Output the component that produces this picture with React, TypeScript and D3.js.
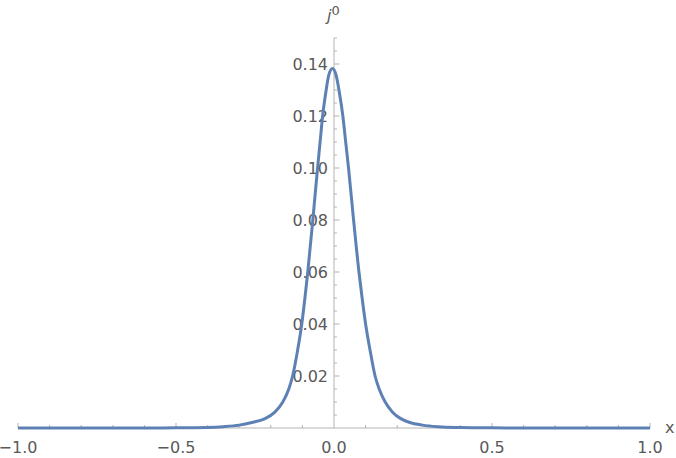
import React from 'react';
import * as d3 from 'd3';

// curve: x position and j0 value
const xValues = [-1, -0.8, -0.6, -0.5, -0.4, -0.35, -0.3, -0.26, -0.22, -0.188, -0.162, -0.143, -0.131, -0.115, -0.102, -0.092, -0.083, -0.067, -0.052, -0.044, -0.036, -0.026, -0.016, -0.005, 0.006, 0.017, 0.028, 0.037, 0.046, 0.062, 0.079, 0.089, 0.1, 0.114, 0.13, 0.143, 0.162, 0.186, 0.21, 0.24, 0.28, 0.33, 0.4, 0.5, 0.6, 0.8, 1];
const j0Values = [0, 0, 0.00001, 0.00005, 0.0002, 0.0005, 0.0011, 0.0021, 0.0035, 0.006, 0.01, 0.015, 0.02, 0.03, 0.04, 0.05, 0.06, 0.08, 0.1, 0.11, 0.12, 0.129, 0.136, 0.1383, 0.136, 0.129, 0.12, 0.11, 0.1, 0.08, 0.06, 0.05, 0.04, 0.03, 0.02, 0.015, 0.01, 0.006, 0.0037, 0.0021, 0.0011, 0.0005, 0.0002, 0.00005, 0.00001, 0, 0];

const xMajorTicks = [-1, -0.5, 0, 0.5, 1];
const xTickLabels = ['\u22121.0', '\u22120.5', '0.0', '0.5', '1.0'];
const yMajorTicks = [0.02, 0.04, 0.06, 0.08, 0.1, 0.12, 0.14];
const yTickLabels = ['0.02', '0.04', '0.06', '0.08', '0.10', '0.12', '0.14'];

const W = 676, H = 458;
const AXIS = '#b3b3b3', TEXT = '#595959', LINE = '#5e81b5';
const FONT = 'DejaVu Sans, sans-serif';

export default function App() {
  const x = d3.scaleLinear().domain([-1, 1]).range([18, 650]);
  const y = d3.scaleLinear().domain([0, 0.15]).range([428, 38]);
  const x0 = x(0), y0 = y(0);

  const xMinor = d3.range(-10, 11).map((i) => i / 10).filter((v) => Math.abs(v * 2 - Math.round(v * 2)) > 1e-9);
  const yMinor = d3.range(1, 31).map((i) => i * 0.005).filter((v) => Math.abs(v * 50 - Math.round(v * 50)) > 1e-9);

  const pts: [number, number][] = xValues.map((v, i) => [v, j0Values[i]]);
  const line = d3.line<[number, number]>().x((d) => x(d[0])).y((d) => y(d[1])).curve(d3.curveMonotoneX);

  return (
    <svg width={W} height={H} style={{ position: 'absolute', left: 0, top: 0, background: '#fff' }} fontFamily={FONT}>
      {/* x axis */}
      <line x1={x(-1)} x2={x(1)} y1={y0} y2={y0} stroke={AXIS} strokeWidth={1} />
      {xMinor.map((v) => (
        <line key={'xm' + v} x1={x(v)} x2={x(v)} y1={y0} y2={y0 - 3} stroke={AXIS} />
      ))}
      {xMajorTicks.filter((v) => v !== 0).map((v) => (
        <line key={'xM' + v} x1={x(v)} x2={x(v)} y1={y0} y2={y0 - 5} stroke={AXIS} />
      ))}
      {xMajorTicks.map((v, i) => (
        <text key={'xl' + v} x={x(v)} y={453} textAnchor="middle" fontSize={16} fill={TEXT}>{xTickLabels[i]}</text>
      ))}
      <text x={665} y={433} fontSize={16} fill={TEXT}>x</text>

      {/* y axis */}
      <line x1={x0} x2={x0} y1={y0} y2={y(0.15)} stroke={AXIS} strokeWidth={1} />
      {yMinor.map((v) => (
        <line key={'ym' + v} x1={x0} x2={x0 + 3} y1={y(v)} y2={y(v)} stroke={AXIS} />
      ))}
      {yMajorTicks.map((v) => (
        <line key={'yM' + v} x1={x0} x2={x0 + 5.5} y1={y(v)} y2={y(v)} stroke={AXIS} />
      ))}
      {yMajorTicks.map((v, i) => (
        <text key={'yl' + v} x={x0 - 6} y={y(v)} textAnchor="end" dominantBaseline="central" fontSize={16} fill={TEXT}>{yTickLabels[i]}</text>
      ))}
      <text x={327} y={21} fontSize={16} fontStyle="italic" fill={TEXT}>j</text>
      <text x={331.5} y={15} fontSize={13} fill={TEXT}>0</text>

      <path d={line(pts) || ''} fill="none" stroke={LINE} strokeWidth={3} strokeLinejoin="round" />
    </svg>
  );
}
